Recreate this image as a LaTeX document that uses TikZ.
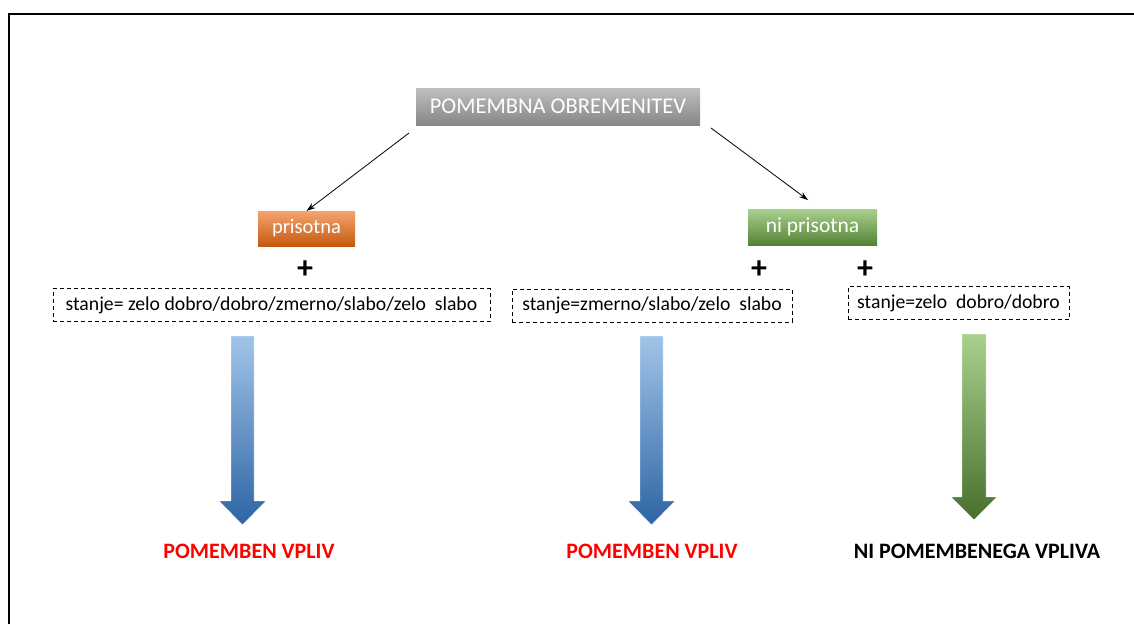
\documentclass[tikz,border=0pt]{standalone}
\usepackage{fontspec}
\setmainfont{Carlito}
\usetikzlibrary{arrows.meta}
\begin{document}
\begin{tikzpicture}[x=1pt,y=-1pt,
  every node/.style={inner sep=0pt, outer sep=0pt},
  gbox/.style={minimum width=284pt, minimum height=37pt, top color=gray!50, bottom color=gray!95!white, text=white, font=\fontsize{22.5}{22.5}\selectfont},
  obox/.style={minimum width=97pt, minimum height=35pt, top color=ortop, bottom color=orbot, text=white, font=\fontsize{20.5}{20.5}\selectfont},
  grbox/.style={minimum width=129pt, minimum height=36pt, top color=grtop, bottom color=grbot, text=white, font=\fontsize{21.5}{21.5}\selectfont},
  dbox/.style={draw, dash pattern=on 4pt off 3pt, line width=0.8pt, minimum height=33pt, font=\fontsize{19.7}{19.7}\selectfont},
  plus/.style={font=\bfseries\fontsize{32}{32}\selectfont},
  conn/.style={-{Stealth[length=9pt,width=6pt]}, line width=0.8pt},
  res/.style={font=\bfseries\fontsize{22}{22}\selectfont},
]
\definecolor{grtop}{HTML}{A9D18E}
\definecolor{grbot}{HTML}{548235}
\definecolor{bltop}{HTML}{A0C4E8}
\definecolor{blbot}{HTML}{2E64A4}
\definecolor{ortop}{HTML}{F4A46E}
\definecolor{orbot}{HTML}{C55A11}
\useasboundingbox (0,0) rectangle (1134,624);
\draw[line width=2pt] (8.5,624) -- (8.5,13.5) -- (1134,13.5);

\node[gbox] (top) at (558,106.5) {POMEMBNA OBREMENITEV};
\node[obox] (pris) at (306.5,228.5) {prisotna};
\node[grbox] (nipris) at (812.5,227) {ni prisotna};

\coordinate (c1) at (409,133);
\coordinate (c2) at (711,128);
\coordinate (c3) at (808,200);
\draw[conn] (c1) -- (pris.north);
\draw[conn] (c2) -- (c3);

\node[plus] (p1) at (305,270) {+};
\node[plus] (p2) at (759,270) {+};
\node[plus] (p3) at (865,270) {+};

\node[dbox, minimum width=437pt] (d1) at (271.5,305) {stanje= zelo dobro/dobro/zmerno/slabo/zelo\ \ slabo};
\node[dbox, minimum width=280pt] (d2) at (652,305.5) {stanje=zmerno/slabo/zelo\ \ slabo};
\node[dbox, minimum width=221pt] (d3) at (958.5,303) {stanje=zelo\ \ dobro/dobro};

% block arrows
\shade[top color=bltop, bottom color=blbot, draw=white, line width=0.4pt]
  (231,336) -- (254,336) -- (254,501) -- (266,501) -- (242.5,525) -- (219,501) -- (231,501) -- cycle;
\shade[top color=bltop, bottom color=blbot, draw=white, line width=0.4pt]
  (640,336) -- (663,336) -- (663,501) -- (675,501) -- (651.5,525) -- (628,501) -- (640,501) -- cycle;
\shade[top color=grtop, bottom color=grbot!85!black, draw=white, line width=0.4pt]
  (962,334) -- (986,334) -- (986,497) -- (997,497) -- (974,520) -- (951,497) -- (962,497) -- cycle;

\node[res, text=red] (r1) at (249,551) {POMEMBEN VPLIV};
\node[res, text=red] (r2) at (652,551) {POMEMBEN VPLIV};
\node[res] (r3) at (977,551) {NI POMEMBENEGA VPLIVA};
\end{tikzpicture}
\end{document}
